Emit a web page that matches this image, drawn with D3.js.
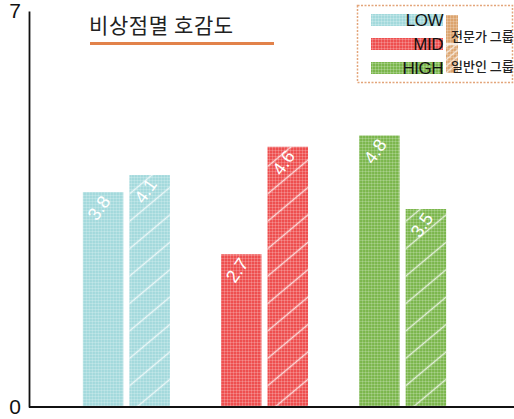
<!DOCTYPE html>
<html>
<head>
<meta charset="utf-8">
<script src="https://cdn.jsdelivr.net/npm/d3@7"></script>
<style>
  html, body { margin: 0; padding: 0; background: #fff; }
  svg { display: block; }
  text { font-family: "Liberation Sans", Arial, "Noto Sans CJK KR", sans-serif; }
  .kr { font-family: "Noto Sans CJK KR", "Noto Sans", sans-serif; }
</style>
</head>
<body>
<svg id="chart" width="514" height="419"></svg>
<script>
// Preference score by signal level, expert group vs. general public
const categories = ["LOW", "MID", "HIGH"];
const groups = ["전문가 그룹", "일반인 그룹"];
const expertValues = [3.8, 2.7, 4.8];
const generalValues = [4.1, 4.6, 3.5];
const yTickLabels = [0, 7];
const title = "비상점멸 호감도";

const colors = { LOW: "#a3d9dc", MID: "#ee4f4f", HIGH: "#7bb64c" };
const legendGroupColor = "#dca46e";

const W = 514, H = 419;
const svg = d3.select("#chart");
const defs = svg.append("defs");

// Fine dotted texture on each fill colour
function texture(id, color) {
  const p = defs.append("pattern").attr("id", id)
    .attr("patternUnits", "userSpaceOnUse").attr("width", 3).attr("height", 3);
  p.append("rect").attr("width", 3).attr("height", 3).attr("fill", color);
  p.append("rect").attr("x", 0).attr("y", 0).attr("width", 3).attr("height", 1)
    .attr("fill", "#fff").attr("opacity", 0.2);
  p.append("rect").attr("x", 0).attr("y", 0).attr("width", 1).attr("height", 3)
    .attr("fill", "#fff").attr("opacity", 0.2);
}
categories.forEach(c => texture("tex-" + c, colors[c]));
texture("tex-legend", legendGroupColor);

// Diagonal white hatching for the general-public bars
function hatch(id, spacing, width, opacity) {
  const p = defs.append("pattern").attr("id", id)
    .attr("patternUnits", "userSpaceOnUse")
    .attr("width", 40).attr("height", spacing)
    .attr("patternTransform", "rotate(-40)");
  p.append("line").attr("x1", 0).attr("x2", 40).attr("y1", spacing / 2).attr("y2", spacing / 2)
    .attr("stroke", "#fff").attr("stroke-width", width).attr("opacity", opacity);
}
hatch("hatch", 21, 1.6, 0.75);
hatch("hatch-small", 5, 1.3, 0.7);

// Scales
const y = d3.scaleLinear().domain([0, 7]).range([407, 11]);
const x0 = d3.scaleBand().domain(categories).range([29, 500])
  .paddingInner(0.37).paddingOuter(0.39);
const x1 = d3.scaleBand().domain(groups).range([0, x0.bandwidth()]).paddingInner(0.13);

const rows = categories.map((c, i) => ({
  cat: c,
  bars: [
    { cat: c, group: groups[0], value: expertValues[i] },
    { cat: c, group: groups[1], value: generalValues[i] }
  ]
}));

// Bars
const g = svg.append("g");
const grp = g.selectAll("g.cat").data(rows).join("g")
  .attr("class", "cat")
  .attr("transform", d => `translate(${x0(d.cat)},0)`);

const bar = grp.selectAll("g.bar").data(d => d.bars).join("g").attr("class", "bar");
bar.append("rect")
  .attr("x", d => x1(d.group)).attr("width", x1.bandwidth())
  .attr("y", d => y(d.value)).attr("height", d => y(0) - y(d.value))
  .attr("fill", d => `url(#tex-${d.cat})`);
bar.filter(d => d.group === groups[1]).append("rect")
  .attr("x", d => x1(d.group)).attr("width", x1.bandwidth())
  .attr("y", d => y(d.value)).attr("height", d => y(0) - y(d.value))
  .attr("fill", "url(#hatch)");

// Value labels, rotated, near the top of each bar
bar.append("text")
  .attr("transform", d => `translate(${x1(d.group) + x1.bandwidth() / 2 - 4},${y(d.value) + 16}) rotate(-55)`)
  .attr("text-anchor", "middle").attr("dominant-baseline", "central")
  .attr("fill", "#fff").attr("font-size", 18).attr("font-weight", 500)
  .text(d => d3.format(".1f")(d.value));

// Axes
const yAxis = d3.axisLeft(y).tickValues(yTickLabels).tickSize(0).tickPadding(8)
  .tickFormat(d3.format("d"));
const ya = svg.append("g").attr("transform", "translate(29,0)").call(yAxis);
ya.select(".domain").attr("stroke", "#111").attr("stroke-width", 1.8);
ya.selectAll("text").attr("font-size", 21).attr("fill", "#111");

svg.append("line").attr("x1", 29).attr("x2", W).attr("y1", y(0)).attr("y2", y(0))
  .attr("stroke", "#111").attr("stroke-width", 2);

// Title with underline
svg.append("text").attr("class", "kr")
  .attr("x", 89).attr("y", 33).attr("font-size", 21).attr("fill", "#222")
  .attr("letter-spacing", 0.6)
  .text(title);
svg.append("line").attr("x1", 90).attr("x2", 274).attr("y1", 43.5).attr("y2", 43.5)
  .attr("stroke", "#e2824a").attr("stroke-width", 3);

// Legend
const lg = svg.append("g");
lg.append("rect").attr("x", 357.5).attr("y", 5.5).attr("width", 155).attr("height", 77)
  .attr("fill", "none").attr("stroke", "#e3a57a").attr("stroke-width", 1.5)
  .attr("stroke-dasharray", "2,1.5");
const ly = d3.scaleBand().domain(categories).range([14, 86]).paddingInner(0);
lg.selectAll("rect.sw").data(categories).join("rect").attr("class", "sw")
  .attr("x", 371).attr("width", 72)
  .attr("y", d => ly(d)).attr("height", 12)
  .attr("fill", d => `url(#tex-${d})`);
lg.selectAll("text.cl").data(categories).join("text").attr("class", "cl")
  .attr("x", 443).attr("y", d => ly(d) + 12).attr("text-anchor", "end")
  .attr("font-size", 17).attr("fill", "#111").attr("letter-spacing", -0.5)
  .text(d => d);

const gy = d3.scaleBand().domain(groups).range([15, 73]).paddingInner(0.05);
lg.selectAll("rect.gs").data(groups).join("rect").attr("class", "gs")
  .attr("x", 446).attr("width", 12)
  .attr("y", d => gy(d)).attr("height", gy.bandwidth())
  .attr("fill", "url(#tex-legend)");
lg.append("rect")
  .attr("x", 446).attr("width", 12)
  .attr("y", gy(groups[1])).attr("height", gy.bandwidth())
  .attr("fill", "url(#hatch-small)");
lg.selectAll("text.gl").data(groups).join("text").attr("class", "gl kr")
  .attr("x", 451).attr("y", d => gy(d) + gy.bandwidth() - 2)
  .attr("font-size", 13).attr("font-weight", 500).attr("fill", "#222")
  .text(d => d);
</script>
</body>
</html>
